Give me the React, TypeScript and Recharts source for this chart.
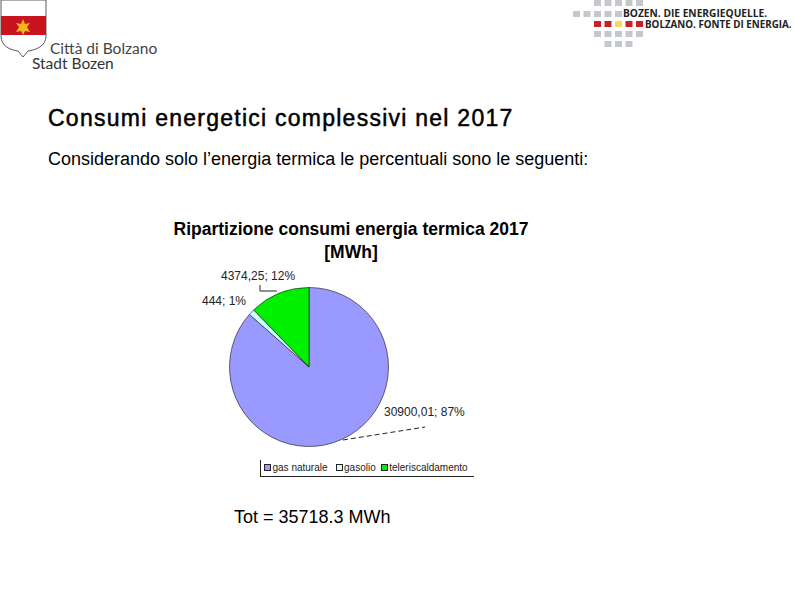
import React from "react";
import { PieChart, Pie, Cell, Legend } from "recharts";

const categories = ["gas naturale", "gasolio", "teleriscaldamento"];
const values = [30900.01, 444, 4374.25];
const valueLabels = ["30900,01", "444", "4374,25"];
const percentLabels = ["87%", "1%", "12%"];
const colors = ["#9999FF", "#CCFFFF", "#00F000"];
const data = categories.map((name, i) => ({ name, value: values[i], label: `${valueLabels[i]}; ${percentLabels[i]}` }));

const FONT = "'Liberation Sans', Arial, sans-serif";
const labelAnchor = [
  { dx: 75, dy: 49 },
  { dx: -107, dy: -62 },
  { dx: -88, dy: -87 },
];
const legendGaps = [8, 5, 0];

function renderLabel(p: any) {
  const a = labelAnchor[p.index];
  return (
    <text key={p.index} x={p.cx + a.dx} y={p.cy + a.dy} fontFamily={FONT} fontSize={12} fill="#222">
      {data[p.index].label}
    </text>
  );
}

function renderLegend(props: any) {
  return (
    <div style={{ display: "flex", alignItems: "center", height: 15, paddingLeft: 3, fontFamily: FONT, fontSize: 10, color: "#222", whiteSpace: "nowrap" }}>
      {props.payload.map((e: any, i: number) => (
        <span key={e.value} style={{ display: "flex", alignItems: "center", flexShrink: 0, marginRight: legendGaps[i] }}>
          <span style={{ width: 5, height: 5, flexShrink: 0, background: e.color, border: "1px solid #222", marginRight: 1.5 }} />
          {e.value}
        </span>
      ))}
    </div>
  );
}

const grayRows = [
  { y: 0, xs: [594, 604.5, 615, 625.5, 636] },
  { y: 11, xs: [573, 583.5, 594, 604.5, 615] },
  { y: 31, xs: [594, 604.5, 615, 625.5, 636] },
  { y: 41, xs: [604.5, 615, 625.5] },
];
const colorRow = [
  { x: 594, c: "#C8202A" },
  { x: 604.5, c: "#C8202A" },
  { x: 615, c: "#F8DC50" },
  { x: 625.5, c: "#C8202A" },
  { x: 636, c: "#C8202A" },
];

export default function App() {
  return (
    <div style={{ position: "absolute", left: 0, top: 0, width: 794, height: 595, background: "#fff", overflow: "hidden" }}>
      <PieChart width={794} height={595} margin={{ top: 0, right: 0, bottom: 0, left: 0 }}>
        <Pie
          data={data}
          dataKey="value"
          nameKey="name"
          cx={309}
          cy={367}
          outerRadius={79.5}
          startAngle={90}
          endAngle={-270}
          stroke="#111"
          strokeWidth={0.6}
          isAnimationActive={false}
          label={renderLabel}
          labelLine={false}
        >
          {data.map((d, i) => (
            <Cell key={d.name} fill={colors[i]} />
          ))}
        </Pie>
        <Legend
          layout="horizontal"
          verticalAlign="bottom"
          align="left"
          content={renderLegend}
          wrapperStyle={{
            position: "absolute",
            left: 260,
            top: 460,
            bottom: "auto",
            width: 214,
            height: 17,
            borderLeft: "1px solid #222",
            borderBottom: "1px solid #222",
            boxSizing: "border-box",
          }}
        />
      </PieChart>
      <svg width={794} height={595} style={{ position: "absolute", left: 0, top: 0, pointerEvents: "none" }}>
        {/* leader lines */}
        <polyline points="343,440 425,427" fill="none" stroke="#222" strokeWidth={1} strokeDasharray="5 3" />
        <polyline points="260,285 260,291 277,291" fill="none" stroke="#222" strokeWidth={1} />

        {/* texts */}
        <text x={48} y={126} fontFamily={FONT} fontSize={23} letterSpacing={1.25} stroke="#000" strokeWidth={0.5} fill="#000">
          Consumi energetici complessivi nel 2017
        </text>
        <text x={48} y={165} fontFamily={FONT} fontSize={18} fill="#000">
          Considerando solo l’energia termica le percentuali sono le seguenti:
        </text>
        <text x={351} y={235} textAnchor="middle" fontFamily={FONT} fontSize={17.5} fontWeight={700} fill="#000">
          Ripartizione consumi energia termica 2017
        </text>
        <text x={351} y={258} textAnchor="middle" fontFamily={FONT} fontSize={17.5} fontWeight={700} fill="#000">
          [MWh]
        </text>
        <text x={234} y={523} fontFamily={FONT} fontSize={18} fill="#000">
          Tot = 35718.3 MWh
        </text>

        {/* city crest */}
        <path d="M1,0 H46 V36 C46,46 36,50 28,51 L23,57 L18,51 C10,50 1,46 1,36 Z" fill="#fff" stroke="#333" strokeWidth={0.8} />
        <rect x={1} y={16} width={45} height={19} fill="#C8141E" />
        <path d="M23,19 l2,5 5,-1 -3,4 3,5 -5,-1 -2,4 -2,-4 -5,1 3,-5 -3,-4 5,1 Z" fill="#F5B51E" />
        <text x={50} y={54} fontFamily="Lato, sans-serif" fontSize={15.5} fill="#444">Città di Bolzano</text>
        <text x={32} y={69} fontFamily="Lato, sans-serif" fontSize={15.5} fill="#333">Stadt Bozen</text>

        {/* energy logo */}
        {grayRows.map((r) => r.xs.map((x) => <rect key={`${r.y}-${x}`} x={x} y={r.y} width={7} height={6} fill="#C4C8CC" />))}
        {colorRow.map((s) => <rect key={s.x} x={s.x} y={21} width={7} height={6} fill={s.c} />)}
        <text x={623} y={17} fontFamily="'Open Sans', sans-serif" fontSize={10.2} fontWeight={700} fill="#222">BOZEN. DIE ENERGIEQUELLE.</text>
        <text x={645} y={28} fontFamily="'Open Sans', sans-serif" fontSize={9.8} fontWeight={700} fill="#222">BOLZANO. FONTE DI ENERGIA.</text>
      </svg>
    </div>
  );
}
